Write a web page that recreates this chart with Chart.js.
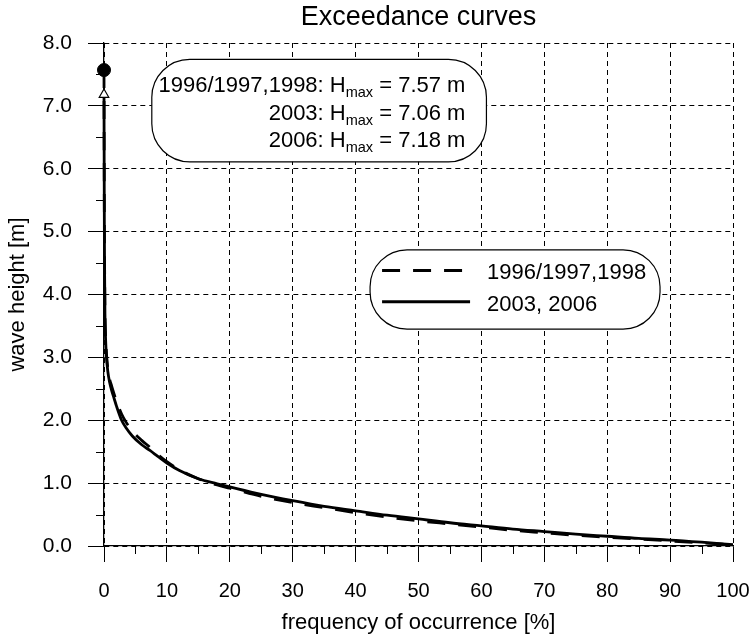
<!DOCTYPE html>
<html>
<head>
<meta charset="utf-8">
<script src="https://cdn.jsdelivr.net/npm/chart.js@4/dist/chart.umd.min.js"></script>
<style>
html,body{margin:0;padding:0;background:#fff;}
#wrap{width:754px;height:636px;}
</style>
</head>
<body>
<div id="wrap"><canvas id="c" width="754" height="636"></canvas></div>
<script>
// ---- data ----
const freq    = [0, 0.03, 0.06, 0.1, 0.15, 0.25, 0.4, 0.6, 0.9, 1.2, 1.6, 2.0, 2.8, 3.5, 4.5, 6, 7.3, 8.5, 10, 12, 15, 18, 20, 25, 30, 35, 40, 45, 50, 55, 60, 65, 70, 75, 80, 85, 90, 95, 100];
const h9698   = [7.57, 6.2, 5.1, 4.4, 3.75, 3.35, 3.05, 2.83, 2.65, 2.55, 2.42, 2.3, 2.1, 1.97, 1.83, 1.68, 1.57, 1.46, 1.34, 1.21, 1.07, 0.97, 0.92, 0.79, 0.69, 0.61, 0.53, 0.46, 0.40, 0.35, 0.30, 0.25, 0.21, 0.17, 0.14, 0.11, 0.08, 0.05, 0.02];
const h0306   = [7.18, 6.0, 5.0, 4.3, 3.7, 3.3, 3.0, 2.78, 2.6, 2.48, 2.35, 2.22, 2.0, 1.88, 1.75, 1.61, 1.52, 1.43, 1.32, 1.20, 1.07, 0.99, 0.94, 0.82, 0.72, 0.63, 0.56, 0.49, 0.43, 0.37, 0.32, 0.27, 0.23, 0.19, 0.155, 0.12, 0.095, 0.06, 0.02];
const seriesNames = ['1996/1997,1998', '2003, 2006'];
const hmaxYears  = ['1996/1997,1998', '2003', '2006'];
const hmaxValues = [7.57, 7.06, 7.18];
const xMinorTicks = [5, 15, 25, 35, 45, 55, 65, 75, 85, 95];
const yMinorTicks = [0.5, 1.5, 2.5, 3.5, 4.5, 5.5, 6.5, 7.5];

const FONT = "'Liberation Sans', Arial, Helvetica, sans-serif";
const DASH = [18, 13];

const pts = (xs, ys) => xs.map((x, i) => ({x: x, y: ys[i]}));

function roundBox(ctx, x1, y1, x2, y2, r) {
  ctx.beginPath();
  ctx.moveTo(x1 + r, y1);
  ctx.lineTo(x2 - r, y1);
  ctx.arcTo(x2, y1, x2, y1 + r, r);
  ctx.lineTo(x2, y2 - r);
  ctx.arcTo(x2, y2, x2 - r, y2, r);
  ctx.lineTo(x1 + r, y2);
  ctx.arcTo(x1, y2, x1, y2 - r, r);
  ctx.lineTo(x1, y1 + r);
  ctx.arcTo(x1, y1, x1 + r, y1, r);
  ctx.closePath();
}

const minorTicksPlugin = {
  id: 'minorTicks',
  afterDraw(chart) {
    const {ctx, scales: {x, y}} = chart;
    ctx.save();
    ctx.strokeStyle = '#000';
    ctx.lineWidth = 1;
    ctx.beginPath();
    xMinorTicks.forEach(v => {
      const px = Math.round(x.getPixelForValue(v)) + 0.5;
      ctx.moveTo(px, y.bottom);
      ctx.lineTo(px, y.bottom + 8);
    });
    yMinorTicks.forEach(v => {
      const py = Math.round(y.getPixelForValue(v)) + 0.5;
      ctx.moveTo(x.left - 8, py);
      ctx.lineTo(x.left, py);
    });
    ctx.stroke();
    ctx.restore();
  }
};

const hmaxBoxPlugin = {
  id: 'hmaxBox',
  afterDraw(chart) {
    const {ctx, scales: {x, y}} = chart;
    const x1 = x.getPixelForValue(7.6), x2 = x.getPixelForValue(60.8);
    const y1 = y.getPixelForValue(7.74), y2 = y.getPixelForValue(6.11);
    ctx.save();
    roundBox(ctx, x1, y1, x2, y2, 38);
    ctx.fillStyle = '#fff';
    ctx.fill();
    ctx.strokeStyle = '#000';
    ctx.lineWidth = 1.2;
    ctx.stroke();
    ctx.fillStyle = '#000';
    ctx.textBaseline = 'alphabetic';
    ctx.textAlign = 'left';
    const big = '22px ' + FONT, small = '14.5px ' + FONT;
    const right = x2 - 21;
    const baselines = [y1 + 32.5, y1 + 60.5, y1 + 87.5];
    hmaxYears.forEach((yr, i) => {
      const tail = ' = ' + hmaxValues[i].toFixed(2) + ' m';
      const head = yr + ': H';
      ctx.font = big;
      const wTail = ctx.measureText(tail).width;
      const wHead = ctx.measureText(head).width;
      ctx.font = small;
      const wSub = ctx.measureText('max').width;
      let px = right - wTail - wSub - wHead;
      ctx.font = big;
      ctx.fillText(head, px, baselines[i]);
      px += wHead;
      ctx.font = small;
      ctx.fillText('max', px, baselines[i] + 5);
      px += wSub;
      ctx.font = big;
      ctx.fillText(tail, px, baselines[i]);
    });
    ctx.restore();
  }
};

const legendBoxPlugin = {
  id: 'legendBox',
  afterDraw(chart) {
    const {ctx, scales: {x, y}} = chart;
    const x1 = x.getPixelForValue(42.3), x2 = x.getPixelForValue(88.4);
    const y1 = y.getPixelForValue(4.71), y2 = y.getPixelForValue(3.45);
    ctx.save();
    roundBox(ctx, x1, y1, x2, y2, 37);
    ctx.fillStyle = '#fff';
    ctx.fill();
    ctx.strokeStyle = '#000';
    ctx.lineWidth = 1.2;
    ctx.stroke();
    const ds = chart.data.datasets;
    const entries = [
      {ds: ds[3], len: 80, ly: 20.7, ty: 29.3},
      {ds: ds[2], len: 88, ly: 52, ty: 61}
    ];
    entries.forEach(e => {
      ctx.beginPath();
      ctx.setLineDash(e.ds.borderDash || []);
      ctx.lineWidth = 3;
      ctx.strokeStyle = e.ds.borderColor;
      ctx.moveTo(x1 + 12, y1 + e.ly);
      ctx.lineTo(x1 + 12 + e.len, y1 + e.ly);
      ctx.stroke();
      ctx.setLineDash([]);
      ctx.fillStyle = '#000';
      ctx.font = '22px ' + FONT;
      ctx.textAlign = 'left';
      ctx.textBaseline = 'alphabetic';
      ctx.fillText(e.ds.label, x1 + 117, y1 + e.ty);
    });
    ctx.restore();
  }
};

new Chart(document.getElementById('c'), {
  type: 'line',
  data: {
    datasets: [
      {
        label: 'Hmax ' + hmaxYears[0],
        data: [{x: 0, y: hmaxValues[0]}],
        showLine: false,
        pointStyle: 'circle',
        pointRadius: 6.5,
        backgroundColor: '#000',
        borderColor: '#000',
        borderWidth: 1,
        clip: false
      },
      {
        label: 'Hmax ' + hmaxYears[2],
        data: [{x: 0, y: hmaxValues[2]}],
        showLine: false,
        pointStyle: 'triangle',
        pointRadius: 5.5,
        backgroundColor: '#fff',
        borderColor: '#000',
        borderWidth: 1.2,
        clip: false
      },
      {
        label: seriesNames[1],
        data: pts(freq, h0306),
        borderColor: '#000',
        borderWidth: 2.8,
        pointRadius: 0,
        fill: false,
        cubicInterpolationMode: 'monotone',
        clip: false
      },
      {
        label: seriesNames[0],
        data: pts(freq, h9698),
        borderColor: '#000',
        borderWidth: 2.8,
        borderDash: DASH,
        pointRadius: 0,
        fill: false,
        cubicInterpolationMode: 'monotone',
        clip: false
      }
    ]
  },
  options: {
    responsive: false,
    animation: false,
    events: [],
    layout: {padding: {left: 0, right: 21, top: 0, bottom: 0}},
    plugins: {
      legend: {display: false},
      tooltip: {enabled: false},
      title: {
        display: true,
        fullSize: false,
        text: 'Exceedance curves',
        color: '#000',
        font: {family: FONT, size: 27, weight: 'normal'},
        padding: {top: 1, bottom: 9.6}
      }
    },
    scales: {
      x: {
        type: 'linear',
        min: 0, max: 100,
        ticks: {stepSize: 10, color: '#000', font: {family: FONT, size: 20}, padding: 17, maxRotation: 0},
        grid: {color: '#000', lineWidth: 1, tickLength: 16, tickColor: '#000', tickWidth: 1},
        border: {display: true, color: '#000', width: 1.3, dash: [5, 4]},
        title: {display: true, text: 'frequency of occurrence [%]', color: '#000', font: {family: FONT, size: 22}, padding: {top: 0, bottom: 0}},
        afterFit: s => { s.height = 90; s.paddingLeft = 0; s.paddingRight = 0; }
      },
      y: {
        type: 'linear',
        min: 0, max: 8,
        ticks: {stepSize: 1, color: '#000', font: {family: FONT, size: 21}, padding: 16, callback: v => Number(v).toFixed(1)},
        grid: {color: '#000', lineWidth: 1, tickLength: 16, tickColor: '#000', tickWidth: 1},
        border: {display: true, color: '#000', width: 1.3, dash: [5, 4]},
        title: {display: true, text: 'wave height [m]', color: '#000', font: {family: FONT, size: 22}, padding: {top: 5, bottom: 0}},
        afterFit: s => { s.width = 104; }
      }
    }
  },
  plugins: [minorTicksPlugin, hmaxBoxPlugin, legendBoxPlugin]
});
</script>
</body>
</html>
